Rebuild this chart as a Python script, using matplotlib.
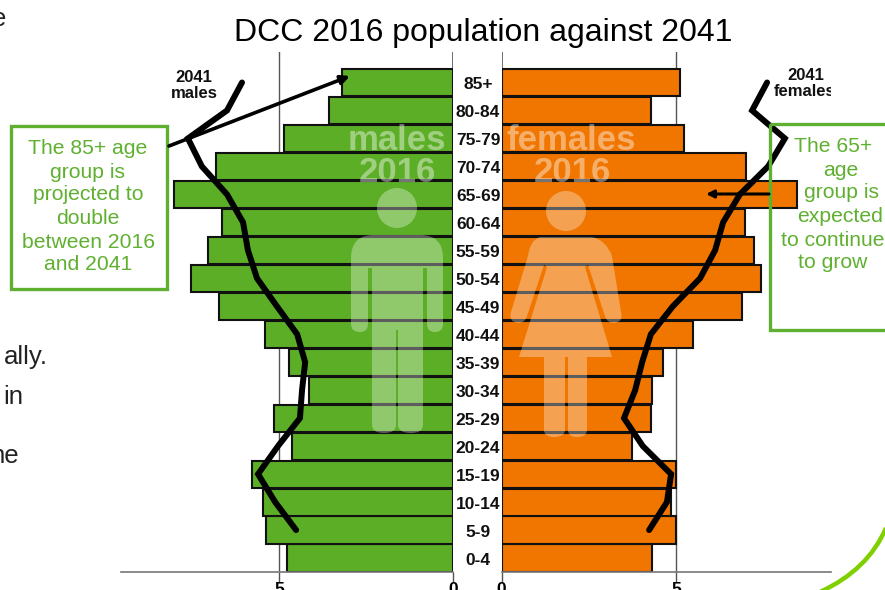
import matplotlib
matplotlib.use("Agg")
import matplotlib.pyplot as plt
from matplotlib.patches import Circle, PathPatch, Rectangle
from matplotlib.path import Path

plt.rcParams['font.family'] = ['Liberation Sans', 'DejaVu Sans']

W, H = 885, 590

# Data, top to bottom reversed so index 0 is the youngest group
ages = ["0-4", "5-9", "10-14", "15-19", "20-24", "25-29", "30-34", "35-39", "40-44",
        "45-49", "50-54", "55-59", "60-64", "65-69", "70-74", "75-79", "80-84", "85+"]
males_2016 = [4.77, 5.37, 5.46, 5.77, 4.63, 5.13, 4.14, 4.71, 5.40,
              6.72, 7.52, 7.03, 6.63, 8.00, 6.80, 4.86, 3.57, 3.19]
females_2016 = [4.31, 5.00, 4.86, 5.00, 3.74, 4.28, 4.31, 4.63, 5.49,
                6.88, 7.43, 7.23, 6.98, 8.47, 7.01, 5.23, 4.28, 5.11]
# 2041 lines have no point for 0-4
males_2041 = [4.51, 5.11, 5.60, 5.03, 4.40, 4.34, 4.25, 4.48,
              5.06, 5.63, 5.89, 6.03, 6.49, 7.21, 7.61, 6.49, 6.06]
females_2041 = [4.23, 4.74, 4.86, 4.05, 3.51, 3.83, 4.03, 4.28,
                4.91, 5.69, 6.12, 6.35, 6.83, 7.64, 8.12, 7.18, 7.61]
x_ticks = [0, 5]

GREEN = '#5cae27'
ORANGE = '#f07600'
BOX = '#5fb030'
AXIS = '#555555'


def px_axes(x0, x1, y_top, y_bot):
    return fig.add_axes([x0 / W, 1 - y_bot / H, (x1 - x0) / W, (y_bot - y_top) / H])


fig = plt.figure(figsize=(W / 100, H / 100), dpi=100)

scale = 34.9  # pixels per unit on both sides
ax_l = px_axes(121, 453.5, 52, 572)
ax_r = px_axes(501.5, 831, 52, 572)
ax_l.set_xlim((453.5 - 121) / scale, 0)
ax_r.set_xlim(0, (831 - 501.5) / scale)
ypos = list(range(len(ages)))

for ax, vals, line, col in [(ax_l, males_2016, males_2041, GREEN),
                            (ax_r, females_2016, females_2041, ORANGE)]:
    ax.set_ylim(-0.5, 18.09)
    ax.patch.set_alpha(0)
    ax.barh(ypos, vals, height=0.97, color=col, edgecolor='#111111', linewidth=1.5, zorder=2)
    ax.plot(line, ypos[1:], color='black', lw=4.3, solid_capstyle='round',
            solid_joinstyle='miter', zorder=3)
    ax.set_yticks([])
    ax.set_xticks(x_ticks)
    ax.tick_params(axis='x', length=7, width=1, color=AXIS, pad=0)
    for lab in ax.get_xticklabels():
        lab.set_fontweight('bold')
        lab.set_fontsize(12.5)
    ax.axvline(5, color=AXIS, lw=1, zorder=1)
    for s in ['top', 'left', 'right']:
        ax.spines[s].set_visible(False)
    ax.spines['bottom'].set_color('#777777')
    ax.spines['bottom'].set_linewidth(1.2)
    ax.axvline(0, color=AXIS, lw=1.2, zorder=1)

for i, a in enumerate(ages):
    ax_r.annotate(a, (-0.67, i), xytext=(0, -1.5), textcoords='offset points', ha='center', va='center',
                  fontsize=12.5, fontweight='bold', color='#111111', zorder=5, annotation_clip=False)

# overlay in picture pixels for the annotations
ov = fig.add_axes([0, 0, 1, 1])
ov.set_xlim(0, W)
ov.set_ylim(H, 0)
ov.axis('off')
ov.patch.set_alpha(0)

ov.text(483, 33, "DCC 2016 population against 2041", ha='center', va='center', fontsize=23, color='black')

# cut-off slide text at left edge
for txt, x, y in [("e", 6, 19), ("ally.", 48, 357), ("in", 23, 397), ("ne", 19, 456), (".", 2, 515)]:
    ov.text(x, y, txt, ha='right', va='center', fontsize=18.5, color='#222222')

# people icons
person = dict(facecolor='white', edgecolor='none', alpha=0.32, zorder=4)
ov.add_patch(Circle((397, 208), 20, **person))
M, L, C = Path.MOVETO, Path.LINETO, Path.CURVE3
male = [(M, 351, 258), (C, 351, 235), (L, 374, 235), (L, 420, 235), (C, 443, 235), (L, 443, 258),
        (L, 443, 324), (C, 443, 332), (L, 435, 332), (C, 427, 332), (L, 427, 324), (L, 427, 268),
        (L, 423, 268), (L, 423, 425), (C, 423, 433), (L, 411, 433), (C, 398, 433), (L, 398, 425),
        (L, 398, 330), (L, 396, 330), (L, 396, 425), (C, 396, 433), (L, 384, 433), (C, 372, 433),
        (L, 372, 425), (L, 372, 268), (L, 368, 268), (L, 368, 324), (C, 368, 332), (L, 360, 332),
        (C, 351, 332), (L, 351, 324), (L, 351, 258)]
female = [(M, 540, 237), (L, 592, 237), (C, 606, 240), (L, 612, 256), (L, 621, 312), (C, 624, 322), (L, 614, 323),
          (C, 607, 323), (L, 605, 316), (L, 588, 265), (L, 585, 267), (L, 612, 357), (L, 587, 357), (L, 587, 430),
          (C, 587, 437), (L, 577, 437), (C, 568, 437), (L, 568, 430), (L, 568, 357), (L, 565, 357), (L, 565, 430),
          (C, 565, 437), (L, 554, 437), (C, 544, 437), (L, 544, 430), (L, 544, 357), (L, 519, 357), (L, 547, 267),
          (L, 544, 265), (L, 527, 316), (C, 525, 323), (L, 518, 323), (C, 508, 322), (L, 511, 312), (L, 528, 256),
          (C, 530, 240), (L, 540, 237)]


def make_path(pts):
    verts, codes = [], []
    i = 0
    while i < len(pts):
        code, x, y = pts[i]
        verts.append((x, y))
        codes.append(code)
        if code == C:
            nx = pts[i + 1]
            verts.append((nx[1], nx[2]))
            codes.append(C)
            i += 1
        i += 1
    return Path(verts, codes)


ov.add_patch(PathPatch(make_path(male), **person))
ov.add_patch(Circle((566, 211), 20, **person))
ov.add_patch(PathPatch(make_path(female), **person))

for txt, x, y in [("males", 397, 140), ("2016", 397, 173), ("females", 571, 140), ("2016", 572, 173)]:
    ov.text(x, y, txt, ha='center', va='center', fontsize=25, fontweight='bold', color='white',
            alpha=0.42, zorder=5)

# series labels
ov.text(194, 77, "2041", ha='center', va='center', fontsize=12, fontweight='bold', color='#111111')
ov.text(194, 94, "males", ha='center', va='center', fontsize=12, fontweight='bold', color='#111111')
ov.text(806, 75, "2041", ha='center', va='center', fontsize=12, fontweight='bold', color='#111111')
t = ov.text(805, 92, "females", ha='center', va='center', fontsize=12, fontweight='bold', color='#111111')
t.set_clip_on(True)
t.set_clip_box(ax_r.bbox)

# callouts
ov.add_patch(Rectangle((11, 126), 156, 163, fill=False, edgecolor=BOX, lw=2.4, zorder=6))
ov.add_patch(Rectangle((770, 124), 125, 206, fill=False, edgecolor=BOX, lw=2.4, zorder=6, clip_on=True))
for txt, y in [("The 85+ age", 149), ("group is", 172), ("projected to", 195), ("double", 218),
               ("between 2016", 242), ("and 2041", 264)]:
    ov.text(88, y, txt, ha='center', va='center', fontsize=15.2, color=BOX, zorder=7)
for txt, x, y in [("The 65+", 833, 146), ("age", 841, 170), ("group is", 841, 193), ("expected", 840, 216),
                  ("to continue", 833, 240), ("to grow", 833, 263)]:
    ov.text(x, y, txt, ha='center', va='center', fontsize=15.2, color=BOX, zorder=7)

ov.annotate("", xy=(350, 76), xytext=(169, 146), zorder=7,
            arrowprops=dict(arrowstyle='-|>', color='black', lw=2.6, mutation_scale=13, shrinkA=0, shrinkB=0))
ov.annotate("", xy=(706, 194), xytext=(769, 194), zorder=7,
            arrowprops=dict(arrowstyle='-|>', color='black', lw=2.2, mutation_scale=11, shrinkA=0, shrinkB=0))

# green arc in the corner
ov.add_patch(PathPatch(Path([(886, 528), (868, 570), (820, 592)], [M, C, C]), fill=False,
                       edgecolor='#7fd000', lw=3.2, zorder=6))

fig.savefig('out.png', dpi=100)
